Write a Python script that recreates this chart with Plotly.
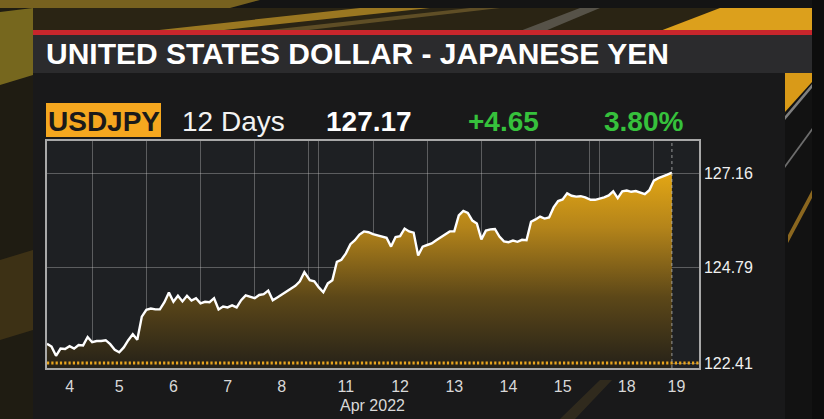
import pandas as pd
import plotly.graph_objects as go

# ---------------- text ----------------
TITLE = "UNITED STATES DOLLAR - JAPANESE YEN"
TICKER = "USDJPY"
PERIOD = "12 Days"
LAST = "127.17"
CHANGE = "+4.65"
CHANGE_PCT = "3.80%"
MONTH_LABEL = "Apr 2022"

# ---------------- axis values ----------------
y_ticks = [122.41, 124.79, 127.16]
y_tick_labels = ["122.41", "124.79", "127.16"]
low_line = 122.41
trading_days = ["2022-04-04", "2022-04-05", "2022-04-06", "2022-04-07", "2022-04-08",
                "2022-04-11", "2022-04-12", "2022-04-13", "2022-04-14", "2022-04-15",
                "2022-04-18", "2022-04-19"]
day_labels = ["4", "5", "6", "7", "8", "11", "12", "13", "14", "15", "18", "19"]
weekend_starts = ["2022-04-09", "2022-04-16"]
x_start = "2022-04-04 04:00"
x_end = "2022-04-19 20:00"

# ---------------- series (2-hour samples) ----------------
apr04 = [122.89, 122.82, 122.59, 122.77, 122.76, 122.83, 122.77, 122.86, 122.85, 123.06]
apr05 = [122.93, 122.96, 122.96, 122.98, 122.88, 122.74, 122.68, 122.80, 122.98, 123.13, 122.99, 123.57]
apr06 = [123.74, 123.77, 123.75, 123.75, 123.93, 124.17, 123.94, 124.09, 123.95, 124.09, 123.97, 124.03]
apr07 = [123.90, 123.94, 123.93, 124.03, 123.75, 123.82, 123.80, 123.85, 123.80, 123.98, 124.10, 124.06]
apr08 = [124.03, 124.11, 124.13, 124.22, 123.98, 124.05, 124.12, 124.20, 124.27, 124.34, 124.45, 124.68]
apr10 = [124.48, 124.45]
apr11 = [124.30, 124.18, 124.40, 124.48, 124.94, 124.99, 125.15, 125.38, 125.48, 125.62, 125.70, 125.68]
apr12 = [125.63, 125.60, 125.57, 125.54, 125.32, 125.56, 125.58, 125.77, 125.70, 125.67, 125.10, 125.32]
apr13 = [125.36, 125.40, 125.48, 125.56, 125.62, 125.70, 125.70, 126.10, 126.21, 126.16, 125.97, 125.90]
apr14 = [125.50, 125.72, 125.75, 125.76, 125.57, 125.45, 125.43, 125.47, 125.44, 125.49, 125.48, 125.94]
apr15 = [126.00, 126.07, 126.02, 126.05, 126.30, 126.46, 126.50, 126.65, 126.59, 126.57, 126.58, 126.55]
apr17 = [126.49, 126.49]
apr18 = [126.52, 126.55, 126.60, 126.70, 126.53, 126.70, 126.72, 126.69, 126.71, 126.66, 126.63, 126.73]
apr19 = [126.97, 127.03, 127.07, 127.12, 127.17]

sessions = [
    ("2022-04-04 04:00", apr04), ("2022-04-05 00:00", apr05), ("2022-04-06 00:00", apr06),
    ("2022-04-07 00:00", apr07), ("2022-04-08 00:00", apr08), ("2022-04-10 20:00", apr10),
    ("2022-04-11 00:00", apr11), ("2022-04-12 00:00", apr12), ("2022-04-13 00:00", apr13),
    ("2022-04-14 00:00", apr14), ("2022-04-15 00:00", apr15), ("2022-04-17 20:00", apr17),
    ("2022-04-18 00:00", apr18), ("2022-04-19 00:00", apr19),
]

times, values = [], []
for start, vals in sessions:
    times += list(pd.date_range(start, periods=len(vals), freq="2h"))
    values += vals

# ---------------- derived axis positions ----------------
xs, xe = pd.Timestamp(x_start), pd.Timestamp(x_end)
label_pos = []
for d in trading_days:
    d0 = pd.Timestamp(d)
    a, b = max(d0, xs), min(d0 + pd.Timedelta(days=1), xe)
    label_pos.append(a + (b - a) / 2)
boundaries = []
for i, d in enumerate(trading_days):
    d0 = pd.Timestamp(d)
    if i > 0:
        boundaries.append(d0)
    nxt = d0 + pd.Timedelta(days=1)
    if nxt.strftime("%Y-%m-%d") in weekend_starts:
        boundaries.append(nxt - pd.Timedelta(minutes=1))

GAP_VISIBLE_H = 4.4
break_ms = int((48 - GAP_VISIBLE_H) * 3600 * 1000)

# ---------------- geometry helpers ----------------
W, H = 824, 419
L, R, T, B = 47, 699, 141, 368
def px(x):
    return (x - L) / (R - L)
def py(y):
    return (B - y) / (B - T)

def rect(x0, y0, x1, y1, color, layer="below"):
    return dict(type="rect", xref="paper", yref="paper", x0=px(x0), x1=px(x1),
                y0=py(y0), y1=py(y1), fillcolor=color, line=dict(width=0), layer=layer)

def poly(points, color, layer="below"):
    path = "M " + " L ".join(f"{px(a)},{py(b)}" for a, b in points) + " Z"
    return dict(type="path", xref="paper", yref="paper", path=path, fillcolor=color,
                line=dict(width=0), layer=layer)

shapes = [
    rect(0, 0, W, H, "#161513"),
    rect(0, 0, 33, H, "#1f1c12"),
    poly([(0, 12), (33, 8), (33, 75), (0, 85)], "rgba(190,165,40,0.55)"),
    poly([(0, 260), (33, 250), (33, 330), (0, 340)], "rgba(150,110,30,0.25)"),
    rect(0, 0, W, 8, "#141414"),
    poly([(0, 0), (260, 0), (230, 8), (0, 8)], "rgba(200,160,40,0.55)"),
    rect(33, 8, 812, 31, "#2a2414"),
    poly([(150, 31), (215, 31), (430, 8), (360, 8)], "rgba(215,165,40,0.65)"),
    poly([(260, 31), (300, 31), (500, 8), (470, 8)], "rgba(160,130,60,0.45)"),
    poly([(520, 31), (545, 31), (600, 8), (580, 8)], "rgba(170,170,170,0.35)"),
    poly([(660, 31), (812, 31), (812, 8), (720, 8)], "#dca01c"),
    rect(33, 30, 812, 35, "#c8262c"),
    rect(33, 35, 812, 73, "#2b2b2d"),
    rect(33, 73, 785, H, "#19191a"),
    rect(785, 73, 812, H, "#121212"),
    poly([(785, 73), (812, 73), (812, 82), (785, 112)], "#d99a18"),
    poly([(785, 116), (812, 84), (812, 88), (785, 120)], "rgba(200,200,200,0.6)"),
    poly([(785, 165), (812, 128), (812, 131), (785, 168)], "rgba(200,200,200,0.5)"),
    poly([(788, 235), (812, 190), (812, 198), (788, 243)], "rgba(220,160,40,0.6)"),
    rect(812, 0, W, H, "#0d0d0d"),
    poly([(560, H), (600, 380), (612, 380), (575, H)], "rgba(120,95,40,0.25)"),
    rect(L, T, R, B, "#1e2023"),
    rect(46, 103, 161, 137, "#f5a71f"),
    # reference lines
    dict(type="line", xref="paper", yref="y", x0=0, x1=1, y0=low_line, y1=low_line,
         line=dict(color="#eaa61e", width=3, dash="2.2px,2.1px"), layer="above"),
    dict(type="line", xref="x", yref="paper", x0=times[-1], x1=times[-1], y0=0, y1=1,
         line=dict(color="rgba(190,190,190,0.75)", width=1, dash="3px,3px"), layer="above"),
]

NARROW = "Liberation Sans Narrow, Arial Narrow, Liberation Sans, Arial, sans-serif"
SANS = "Liberation Sans, Arial, Helvetica, sans-serif"

def ann(text, x, y, size, color, bold=False, family=NARROW, xanchor="left"):
    return dict(text=f"<b>{text}</b>" if bold else text, xref="paper", yref="paper",
                x=px(x), y=py(y), xanchor=xanchor, yanchor="middle", showarrow=False,
                font=dict(family=family, size=size, color=color))

annotations = [
    ann(TITLE, 44, 53, 30, "#ffffff", bold=True),
    ann(TICKER, 103.5, 121, 28, "#1a1a1a", bold=True, xanchor="center"),
    ann(PERIOD, 180, 121, 28, "#f2f2f2"),
    ann(LAST, 324, 121, 28, "#ffffff", bold=True),
    ann(CHANGE, 466, 121, 28, "#36c13c", bold=True),
    ann(CHANGE_PCT, 602, 121, 28, "#36c13c", bold=True),
    ann(MONTH_LABEL, 372, 405, 16, "#d8d8d8", family=SANS, xanchor="center"),
]

fig = go.Figure()
fig.add_trace(go.Scatter(
    x=times, y=values, mode="lines",
    line=dict(color="#ffffff", width=2.4),
    fill="tozeroy",
    fillgradient=dict(type="vertical", start=122.3, stop=127.3,
                      colorscale=[[0, "#262218"], [0.35, "#5c4718"], [0.7, "#b4841a"], [1, "#e8aa14"]]),
    hoverinfo="skip", showlegend=False,
))

fig.update_layout(
    width=W, height=H,
    margin=dict(l=L, r=W - R, t=T, b=H - B, pad=0),
    paper_bgcolor="#161513", plot_bgcolor="rgba(0,0,0,0)",
    shapes=shapes, annotations=annotations, showlegend=False,
    xaxis=dict(
        type="date", range=[x_start, x_end],
        rangebreaks=[dict(values=weekend_starts, dvalue=break_ms)],
        tickmode="array", tickvals=label_pos, ticktext=day_labels,
        showgrid=False, ticks="", zeroline=False, ticklabelstandoff=3,
        tickfont=dict(family=SANS, size=16, color="#d8d8d8"),
        showline=True, mirror=True, linecolor="#a8a8a8", linewidth=1.5,
        minor=dict(tickmode="array", tickvals=boundaries, showgrid=True,
                   gridcolor="rgba(210,210,210,0.35)", gridwidth=1, ticks=""),
    ),
    yaxis=dict(
        range=[122.285, 127.96], side="right",
        tickmode="array", tickvals=y_ticks, ticktext=y_tick_labels,
        showgrid=True, gridcolor="rgba(210,210,210,0.35)", gridwidth=1,
        ticks="", zeroline=False,
        tickfont=dict(family=SANS, size=16, color="#f0f0f0"),
        showline=True, mirror=True, linecolor="#a8a8a8", linewidth=1.5,
    ),
)

fig.write_html("out.html", config={"displayModeBar": False},
               post_script="document.body.style.margin='0';document.body.style.overflow='hidden';")
